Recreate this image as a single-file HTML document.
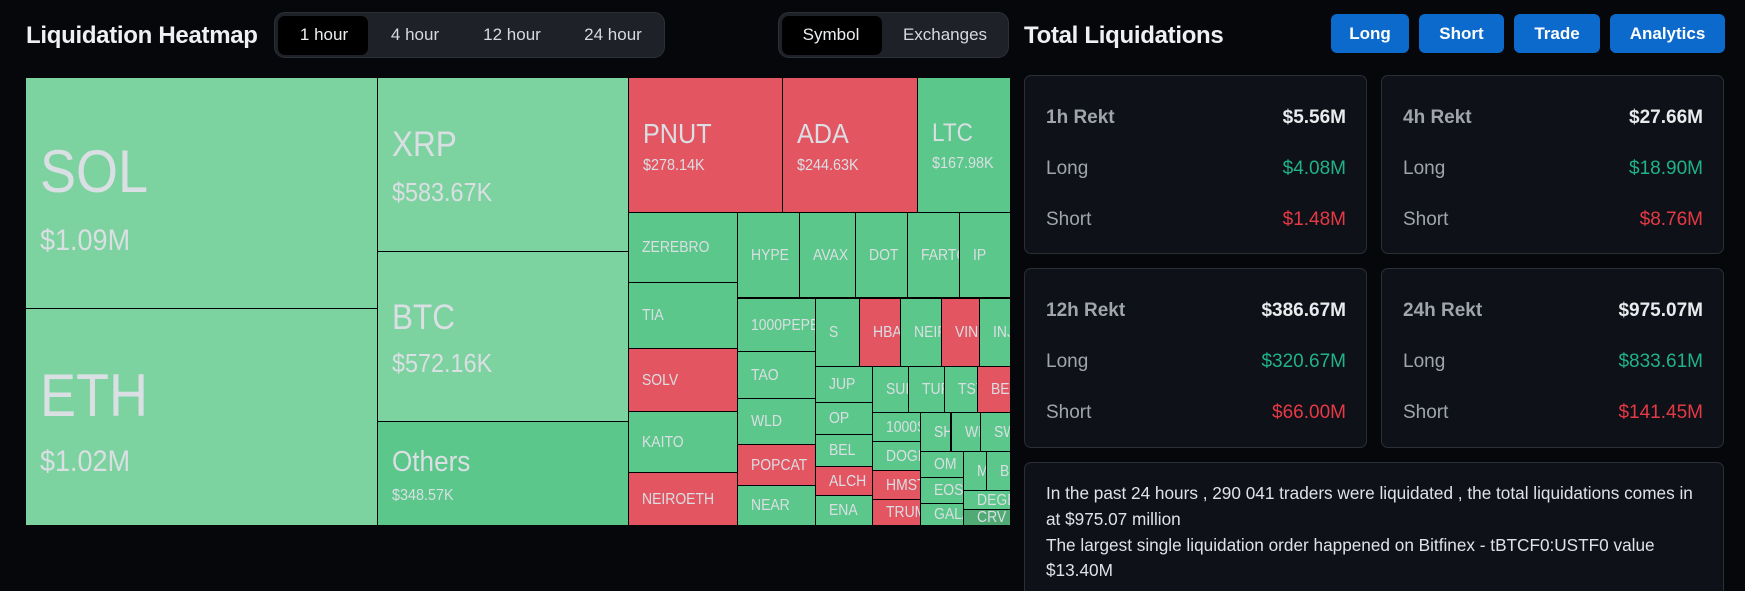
<!DOCTYPE html>
<html><head><meta charset="utf-8">
<style>
*{box-sizing:border-box;margin:0;padding:0}
html,body{width:1745px;height:591px;overflow:hidden;background:#05070b;font-family:"Liberation Sans",sans-serif;position:relative}
.abs{position:absolute}
.title{position:absolute;top:24px;font-size:24px;line-height:24px;font-weight:bold;color:#eef0f3;letter-spacing:-0.3px}
.grp{position:absolute;top:12px;height:46px;background:#1e2127;border:1px solid #2c3037;border-radius:11px}
.act{position:absolute;top:3px;height:39px;background:#000;border-radius:7px}
.tab{position:absolute;top:26px;font-size:17px;line-height:17px;color:#d6dade;transform:translateX(-50%);white-space:nowrap}
.btn{position:absolute;top:14px;height:39px;background:#0b6acb;border-radius:6px;color:#fff;font-weight:bold;font-size:17px;display:flex;align-items:center;justify-content:center}
#tm{position:absolute;left:26px;top:78px;width:984px;height:447px;background:#000}
.t{position:absolute;overflow:hidden;color:#dadfe4}
.g1{background:#7dd3a0}.g2{background:#5bc78a}.r{background:#e45562}.g3{background:#4faa73}
.s{display:flex;align-items:center;padding-left:13px;font-size:15.5px;line-height:15px;white-space:nowrap}
.s span,.b span{display:inline-block;transform:scaleX(.9);transform-origin:0 50%}
.b span{position:absolute;white-space:nowrap;line-height:1;transform-origin:0 0}
.card{position:absolute;background:#0e1117;border:1px solid #2b2f37;border-radius:7px}
.cl{position:absolute;left:21px;font-size:19px;line-height:19px;color:#a0a5ad;white-space:nowrap}
.cv{position:absolute;right:20px;font-size:19px;line-height:19px;white-space:nowrap}
.hd{font-weight:bold}
.w{color:#e9ebee;font-weight:bold}.gr{color:#20b387}.rd{color:#e63946}
.tx{position:absolute;left:21px;font-size:17.2px;line-height:17px;color:#dfe2e6;white-space:nowrap}
</style></head><body>

<div class="title" style="left:26px">Liquidation Heatmap</div>
<div class="grp" style="left:274px;width:391px"><div class="act" style="left:3px;width:90px"></div></div>
<div class="tab" style="left:324px;color:#eceef1">1 hour</div>
<div class="tab" style="left:415px">4 hour</div>
<div class="tab" style="left:512px">12 hour</div>
<div class="tab" style="left:613px">24 hour</div>

<div class="grp" style="left:778px;width:231px"><div class="act" style="left:3px;width:100px"></div></div>
<div class="tab" style="left:831px;color:#eceef1">Symbol</div>
<div class="tab" style="left:945px">Exchanges</div>

<div class="title" style="left:1024px">Total Liquidations</div>
<div class="btn" style="left:1331px;width:78px">Long</div>
<div class="btn" style="left:1419px;width:85px">Short</div>
<div class="btn" style="left:1514px;width:86px">Trade</div>
<div class="btn" style="left:1610px;width:115px">Analytics</div>

<div id="tm"></div>
<!-- big tiles -->
<div class="t g1 b" style="left:26px;top:78px;width:351px;height:230px">
  <span style="left:14px;top:64px;font-size:60px">SOL</span>
  <span style="left:14px;top:148px;font-size:30px">$1.09M</span></div>
<div class="t g1 b" style="left:26px;top:309px;width:351px;height:216px">
  <span style="left:14px;top:57px;font-size:60px">ETH</span>
  <span style="left:14px;top:138px;font-size:30px">$1.02M</span></div>
<div class="t g1 b" style="left:378px;top:78px;width:250px;height:173px">
  <span style="left:14px;top:49px;font-size:35px">XRP</span>
  <span style="left:14px;top:101px;font-size:26px">$583.67K</span></div>
<div class="t g1 b" style="left:378px;top:252px;width:250px;height:169px">
  <span style="left:14px;top:48px;font-size:35px">BTC</span>
  <span style="left:14px;top:98px;font-size:26px">$572.16K</span></div>
<div class="t g2 b" style="left:378px;top:422px;width:250px;height:103px">
  <span style="left:14px;top:26px;font-size:29px">Others</span>
  <span style="left:14px;top:66px;font-size:16px">$348.57K</span></div>
<div class="t r b" style="left:629px;top:78px;width:153px;height:134px">
  <span style="left:14px;top:42px;font-size:28px">PNUT</span>
  <span style="left:14px;top:80px;font-size:16px">$278.14K</span></div>
<div class="t r b" style="left:783px;top:78px;width:134px;height:134px">
  <span style="left:14px;top:42px;font-size:28px">ADA</span>
  <span style="left:14px;top:80px;font-size:16px">$244.63K</span></div>
<div class="t g2 b" style="left:918px;top:78px;width:92px;height:134px">
  <span style="left:14px;top:43px;font-size:25px">LTC</span>
  <span style="left:14px;top:78px;font-size:16px">$167.98K</span></div>

<!-- small tiles -->
<div class="t g2 s" style="left:629px;top:213px;width:108px;height:69px"><span>ZEREBRO</span></div>
<div class="t g2 s" style="left:629px;top:283px;width:108px;height:65px"><span>TIA</span></div>
<div class="t r s" style="left:629px;top:349px;width:108px;height:62px"><span>SOLV</span></div>
<div class="t g2 s" style="left:629px;top:412px;width:108px;height:60px"><span>KAITO</span></div>
<div class="t r s" style="left:629px;top:473px;width:108px;height:52px"><span>NEIROETH</span></div>

<div class="t g2 s" style="left:738px;top:213px;width:61px;height:84px"><span>HYPE</span></div>
<div class="t g2 s" style="left:800px;top:213px;width:55px;height:84px"><span>AVAX</span></div>
<div class="t g2 s" style="left:856px;top:213px;width:51px;height:84px"><span>DOT</span></div>
<div class="t g2 s" style="left:908px;top:213px;width:51px;height:84px"><span>FARTCOIN</span></div>
<div class="t g2 s" style="left:960px;top:213px;width:50px;height:84px"><span>IP</span></div>

<div class="t g2 s" style="left:738px;top:299px;width:77px;height:52px"><span>1000PEPE</span></div>
<div class="t g2 s" style="left:738px;top:352px;width:77px;height:46px"><span>TAO</span></div>
<div class="t g2 s" style="left:738px;top:399px;width:77px;height:45px"><span>WLD</span></div>
<div class="t r s" style="left:738px;top:445px;width:77px;height:40px"><span>POPCAT</span></div>
<div class="t g2 s" style="left:738px;top:486px;width:77px;height:39px"><span>NEAR</span></div>

<div class="t g2 s" style="left:816px;top:299px;width:43px;height:67px"><span>S</span></div>
<div class="t r s" style="left:860px;top:299px;width:40px;height:67px"><span>HBAR</span></div>
<div class="t g2 s" style="left:901px;top:299px;width:40px;height:67px"><span>NEIRO</span></div>
<div class="t r s" style="left:942px;top:299px;width:37px;height:67px"><span>VINE</span></div>
<div class="t g2 s" style="left:980px;top:299px;width:30px;height:67px"><span>INJ</span></div>

<div class="t g2 s" style="left:816px;top:367px;width:56px;height:35px"><span>JUP</span></div>
<div class="t g2 s" style="left:816px;top:403px;width:56px;height:31px"><span>OP</span></div>
<div class="t g2 s" style="left:816px;top:435px;width:56px;height:31px"><span>BEL</span></div>
<div class="t r s" style="left:816px;top:467px;width:56px;height:28px"><span>ALCH</span></div>
<div class="t g2 s" style="left:816px;top:496px;width:56px;height:29px"><span>ENA</span></div>

<div class="t g2 s" style="left:873px;top:367px;width:35px;height:45px"><span>SUI</span></div>
<div class="t g2 s" style="left:909px;top:367px;width:35px;height:45px"><span>TURBO</span></div>
<div class="t g2 s" style="left:945px;top:367px;width:32px;height:45px"><span>TST</span></div>
<div class="t r s" style="left:978px;top:367px;width:32px;height:45px"><span>BERA</span></div>

<div class="t g2 s" style="left:873px;top:413px;width:47px;height:28px"><span>1000SATS</span></div>
<div class="t g2 s" style="left:873px;top:442px;width:47px;height:28px"><span>DOGE</span></div>
<div class="t r s" style="left:873px;top:471px;width:47px;height:28px"><span>HMSTR</span></div>
<div class="t r s" style="left:873px;top:500px;width:47px;height:25px"><span>TRUMP</span></div>

<div class="t g2 s" style="left:921px;top:413px;width:29px;height:38px"><span>SHIB</span></div>
<div class="t g2 s" style="left:952px;top:413px;width:28px;height:38px"><span>WIF</span></div>
<div class="t g2 s" style="left:981px;top:413px;width:29px;height:38px"><span>SWARMS</span></div>

<div class="t g2 s" style="left:921px;top:452px;width:42px;height:25px"><span>OM</span></div>
<div class="t g2 s" style="left:921px;top:478px;width:42px;height:25px"><span>EOS</span></div>
<div class="t g2 s" style="left:921px;top:504px;width:42px;height:21px"><span>GALA</span></div>
<div class="t g2 s" style="left:964px;top:452px;width:22px;height:38px"><span>MKR</span></div>
<div class="t g2 s" style="left:987px;top:452px;width:23px;height:38px"><span>BNB</span></div>
<div class="t g2 s" style="left:964px;top:491px;width:46px;height:18px"><span>DEGEN</span></div>
<div class="t g3 s" style="left:964px;top:510px;width:46px;height:15px"><span>CRV</span></div>

<!-- cards -->
<div class="card" style="left:1024px;top:75px;width:343px;height:179px">
  <div class="cl hd" style="top:32px">1h Rekt</div><div class="cv w" style="top:32px">$5.56M</div>
  <div class="cl" style="top:83px">Long</div><div class="cv gr" style="top:83px">$4.08M</div>
  <div class="cl" style="top:134px">Short</div><div class="cv rd" style="top:134px">$1.48M</div>
</div>
<div class="card" style="left:1381px;top:75px;width:343px;height:179px">
  <div class="cl hd" style="top:32px">4h Rekt</div><div class="cv w" style="top:32px">$27.66M</div>
  <div class="cl" style="top:83px">Long</div><div class="cv gr" style="top:83px">$18.90M</div>
  <div class="cl" style="top:134px">Short</div><div class="cv rd" style="top:134px">$8.76M</div>
</div>
<div class="card" style="left:1024px;top:268px;width:343px;height:180px">
  <div class="cl hd" style="top:32px">12h Rekt</div><div class="cv w" style="top:32px">$386.67M</div>
  <div class="cl" style="top:83px">Long</div><div class="cv gr" style="top:83px">$320.67M</div>
  <div class="cl" style="top:134px">Short</div><div class="cv rd" style="top:134px">$66.00M</div>
</div>
<div class="card" style="left:1381px;top:268px;width:343px;height:180px">
  <div class="cl hd" style="top:32px">24h Rekt</div><div class="cv w" style="top:32px">$975.07M</div>
  <div class="cl" style="top:83px">Long</div><div class="cv gr" style="top:83px">$833.61M</div>
  <div class="cl" style="top:134px">Short</div><div class="cv rd" style="top:134px">$141.45M</div>
</div>
<div class="card" style="left:1024px;top:462px;width:700px;height:129px;border-bottom:none;border-radius:7px 7px 0 0;overflow:hidden">
  <div class="tx" style="top:22px">In the past 24 hours , 290 041 traders were liquidated , the total liquidations comes in</div>
  <div class="tx" style="top:48px">at $975.07 million</div>
  <div class="tx" style="top:74px">The largest single liquidation order happened on Bitfinex - tBTCF0:USTF0 value</div>
  <div class="tx" style="top:99px">$13.40M</div>
</div>
</body></html>
